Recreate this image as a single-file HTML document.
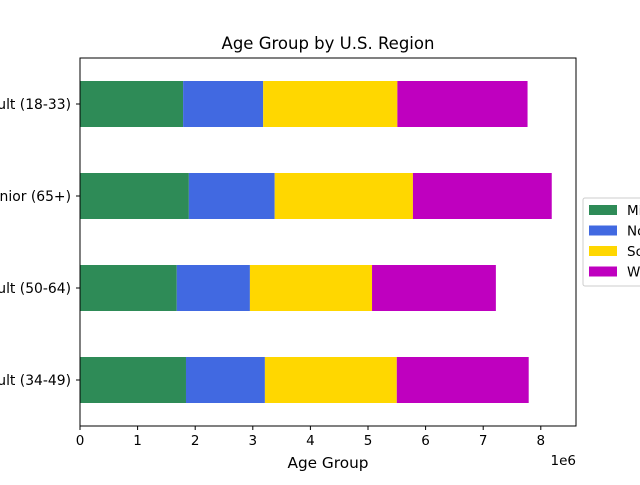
<!DOCTYPE html>
<html><head><meta charset="utf-8"><style>
body{margin:0;background:#fff;overflow:hidden;width:640px;height:480px}
svg text{font-family:"DejaVu Sans","Liberation Sans",sans-serif;fill:#000}
</style></head><body>
<svg id="chart" width="640" height="480" xmlns="http://www.w3.org/2000/svg">
<text x="328" y="49" font-size="16.5" text-anchor="middle">Age Group by U.S. Region</text>
<g id="bars"></g>
<rect x="80" y="58" width="496" height="368" fill="none" stroke="#000" stroke-width="1"/>
<g id="xaxis"></g><g id="yaxis"></g>
<text x="328" y="468" font-size="15.3" text-anchor="middle">Age Group</text>
<text x="576" y="465" font-size="13.5" text-anchor="end">1e6</text>
<g id="legend"></g>
</svg>
<script>
const categories = ["Adult (34-49)", "Older Adult (50-64)", "Senior (65+)", "Young Adult (18-33)"];
const seriesNames = ["Midwest", "Northeast", "South", "West"];
const midwest = [1.84, 1.68, 1.89, 1.79];
const northeast = [1.37, 1.27, 1.49, 1.39];
const south = [2.29, 2.12, 2.40, 2.33];
const west = [2.29, 2.15, 2.41, 2.26];
const xTicks = [0, 1, 2, 3, 4, 5, 6, 7, 8];
const colors = ["#2e8b57", "#4169e1", "#ffd700", "#bf00bf"];
const series = [midwest, northeast, south, west];
const NS = "http://www.w3.org/2000/svg";
const x0 = 80, pxPer = 57.6, yBottom = 426, yTop = 58;
const xs = v => x0 + v * pxPer;
const n = categories.length, band = (yBottom - yTop) / n;
const yc = i => yBottom - band * (i + 0.5);
const barH = band * 0.5;
function mk(tag, attrs, parent) { const e = document.createElementNS(NS, tag); for (const k in attrs) e.setAttribute(k, attrs[k]); parent.appendChild(e); return e; }
const gb = document.getElementById('bars');
categories.forEach((c, i) => {
  let acc = 0;
  series.forEach((s, j) => {
    const r = mk('rect', { x: xs(acc), y: yc(i) - barH / 2, width: xs(acc + s[i]) - xs(acc), height: barH, fill: colors[j] }, gb);
    
    
    acc += s[i];
  });
});
const gx = document.getElementById('xaxis');
xTicks.forEach(t => {
  const l = mk('line', { x1: xs(t), x2: xs(t), y1: yBottom, y2: yBottom + 4, stroke: '#000' }, gx);
  
  
  const tx = mk('text', { x: xs(t), y: yBottom + 19, 'font-size': 13.5, 'text-anchor': 'middle' }, gx);
  tx.textContent = t;
  
  
});
const gy = document.getElementById('yaxis');
categories.forEach((c, i) => {
  const l = mk('line', { x1: x0 - 4, x2: x0, y1: yc(i), y2: yc(i), stroke: '#000' }, gy);
  
  
  const tx = mk('text', { x: x0 - 9, y: yc(i) + 5, 'font-size': 13.9, 'text-anchor': 'end' }, gy);
  tx.textContent = c;
  
  
});
const gl = document.getElementById('legend');
const lb = mk('rect', { x: 583, y: 198, width: 80, height: 88, rx: 2, fill: '#fff', stroke: '#ccc' }, gl);


seriesNames.forEach((s, j) => {
  const y = 210 + j * 20.5;
  const r = mk('rect', { x: 589, y: y - 5, width: 28, height: 10, fill: colors[j] }, gl);
  
  
  const t = mk('text', { x: 627, y: y + 5, 'font-size': 13.5 }, gl);
  t.textContent = s;
  
  
});
</script>
</body></html>
